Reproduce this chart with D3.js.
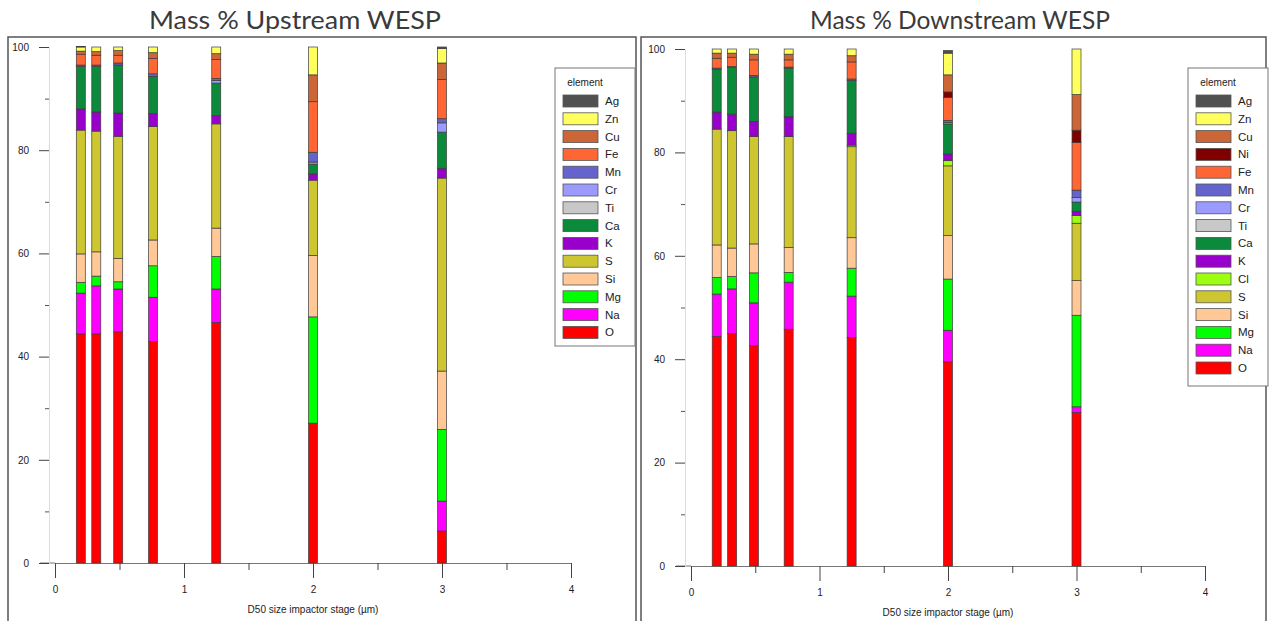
<!DOCTYPE html>
<html lang="en">
<head>
<meta charset="utf-8">
<title>Mass % Upstream / Downstream WESP</title>
<script src="https://cdn.jsdelivr.net/npm/d3@7"></script>
<style>
  body { margin: 0; background: #fff; }
  svg { display: block; }
  .tick text { font-family: "Liberation Sans", Arial, sans-serif; font-size: 10px; fill: #222; }
  .title { font-family: Lato, "Open Sans", sans-serif; font-size: 25px; fill: #3a3a3a; text-anchor: middle; }
  .axlabel { font-family: "Liberation Sans", Arial, sans-serif; font-size: 10px; fill: #222; text-anchor: middle; }
  .legtext { font-family: "Liberation Sans", Arial, sans-serif; font-size: 11.5px; fill: #222; }
</style>
</head>
<body>
<svg id="chart" width="1269" height="621"></svg>
<script>
// D50 cut size of each impactor stage (um)
var stages = [0.2, 0.32, 0.49, 0.76, 1.25, 2.0, 3.0];
var xTicks = [0, 1, 2, 3, 4];
var xMinor = [0.5, 1.5, 2.5, 3.5];
var yTicks = [0, 20, 40, 60, 80, 100];
var yMinor = [10, 30, 50, 70, 90];

// element stacking order, bottom to top
var upElements = ["O", "Na", "Mg", "Si", "S", "K", "Ca", "Ti", "Cr", "Mn", "Fe", "Cu", "Zn", "Ag"];
var downElements = ["O", "Na", "Mg", "Si", "S", "Cl", "K", "Ca", "Ti", "Cr", "Mn", "Fe", "Ni", "Cu", "Zn", "Ag"];

// Upstream WESP, mass % per stage
var up_O  = [44.4, 44.4, 44.8, 42.9, 46.6, 27.1, 6.2];
var up_Na = [7.9, 9.3, 8.3, 8.6, 6.5, 0, 5.8];
var up_Mg = [2.1, 1.9, 1.4, 6.1, 6.3, 20.6, 13.9];
var up_Si = [5.5, 4.7, 4.5, 5.0, 5.5, 11.9, 11.3];
var up_S  = [24.0, 23.4, 23.7, 22.0, 20.2, 14.6, 37.4];
var up_K  = [4.1, 3.7, 4.5, 2.5, 1.6, 1.2, 1.9];
var up_Ca = [8.2, 8.8, 9.3, 7.2, 6.3, 1.9, 7.0];
var up_Ti = [0, 0, 0, 0, 0, 0, 0];
var up_Cr = [0, 0, 0, 0, 0.5, 0.4, 1.8];
var up_Mn = [0.3, 0.3, 0.4, 0.5, 0.4, 1.9, 0.8];
var up_Fe = [2.1, 1.9, 1.5, 3.0, 3.7, 9.8, 7.6];
var up_Cu = [0.6, 0.7, 0.9, 1.1, 1.1, 5.2, 3.2];
var up_Zn = [0.8, 0.9, 0.7, 1.1, 1.3, 5.4, 2.8];
var up_Ag = [0.1, 0, 0, 0, 0, 0, 0.3];

// Downstream WESP, mass % per stage
var down_O  = [44.4, 45.0, 42.6, 45.8, 44.2, 39.5, 29.7];
var down_Na = [8.2, 8.6, 8.3, 9.1, 8.0, 6.1, 1.1];
var down_Mg = [3.2, 2.4, 5.8, 1.9, 5.4, 9.9, 17.7];
var down_Si = [6.3, 5.5, 5.6, 4.8, 5.9, 8.4, 6.7];
var down_S  = [22.4, 22.7, 20.8, 21.5, 17.6, 13.5, 11.1];
var down_Cl = [0, 0, 0, 0, 0.3, 1.0, 1.5];
var down_K  = [3.3, 3.2, 2.9, 3.8, 2.3, 1.3, 0.8];
var down_Ca = [8.3, 9.0, 8.6, 9.4, 10.2, 5.8, 1.8];
var down_Ti = [0, 0, 0, 0, 0, 0, 0];
var down_Cr = [0, 0, 0, 0, 0, 0.3, 0.9];
var down_Mn = [0.2, 0.2, 0.3, 0.2, 0.3, 0.4, 1.4];
var down_Fe = [1.9, 1.8, 3.0, 1.4, 3.3, 4.4, 9.2];
var down_Ni = [0, 0, 0, 0, 0, 1.1, 2.4];
var down_Cu = [1.0, 0.8, 1.1, 1.1, 1.2, 3.3, 6.9];
var down_Zn = [0.8, 0.8, 1.0, 1.0, 1.3, 4.2, 8.8];
var down_Ag = [0, 0, 0, 0, 0, 0.5, 0];

var colors = {
  Ag: "#505050", Zn: "#ffff5e", Cu: "#cd6636", Ni: "#800000", Fe: "#ff6633",
  Mn: "#6464cc", Cr: "#9a9aff", Ti: "#c8c8c8", Ca: "#0a8a3a", K: "#9a00cc",
  Cl: "#9cff12", S: "#cdc630", Si: "#ffc896", Mg: "#00ff00", Na: "#ff00ff", O: "#ff0000"
};

var upSeries = {O: up_O, Na: up_Na, Mg: up_Mg, Si: up_Si, S: up_S, K: up_K, Ca: up_Ca,
  Ti: up_Ti, Cr: up_Cr, Mn: up_Mn, Fe: up_Fe, Cu: up_Cu, Zn: up_Zn, Ag: up_Ag};
var downSeries = {O: down_O, Na: down_Na, Mg: down_Mg, Si: down_Si, S: down_S, Cl: down_Cl,
  K: down_K, Ca: down_Ca, Ti: down_Ti, Cr: down_Cr, Mn: down_Mn, Fe: down_Fe, Ni: down_Ni,
  Cu: down_Cu, Zn: down_Zn, Ag: down_Ag};

function rows(series, keys) {
  return stages.map(function (s, i) {
    var r = {stage: s};
    keys.forEach(function (k) { r[k] = series[k][i]; });
    return r;
  });
}

var svg = d3.select("#chart");

var panels = [
  {title: "Mass % Upstream WESP", keys: upElements, data: rows(upSeries, upElements),
   frame: [8, 37, 628, 600], titleX: 295, titleW: 292, x0: 55, x1: 571, y0: 563, y1: 47, yAxisX: 49,
   legend: {x: 555, y: 68, w: 80, h: 278}},
  {title: "Mass % Downstream WESP", keys: downElements, data: rows(downSeries, downElements),
   frame: [641, 37, 625, 600], titleX: 960, titleW: 300, x0: 691, x1: 1205, y0: 566, y1: 49, yAxisX: 685,
   legend: {x: 1188, y: 68, w: 80, h: 318}}
];

panels.forEach(function (p) {
  var g = svg.append("g");

  // panel frame
  g.append("rect")
    .attr("x", p.frame[0]).attr("y", p.frame[1])
    .attr("width", p.frame[2]).attr("height", p.frame[3])
    .attr("fill", "none").attr("stroke", "#555").attr("stroke-width", 1.5);

  g.append("text").attr("class", "title")
    .attr("x", p.titleX).attr("y", 29)
    .attr("textLength", p.titleW).attr("lengthAdjust", "spacingAndGlyphs")
    .text(p.title);

  var x = d3.scaleLinear().domain([0, 4]).range([p.x0, p.x1]);
  var y = d3.scaleLinear().domain([0, 100]).range([p.y0, p.y1]);

  // x axis
  var xa = g.append("g").attr("transform", "translate(0," + p.y0 + ")")
    .call(d3.axisBottom(x).tickValues(xTicks).tickSize(15).tickSizeOuter(0).tickPadding(8).tickFormat(d3.format("d")));
  xa.select(".domain").attr("stroke", "#777");
  xa.selectAll(".tick line").attr("stroke", "#444");
  g.append("line").attr("x1", p.x0 - 15).attr("x2", p.x0).attr("y1", p.y0).attr("y2", p.y0).attr("stroke", "#777");
  g.append("g").attr("transform", "translate(0," + p.y0 + ")")
    .call(d3.axisBottom(x).tickValues(xMinor).tickSize(7).tickFormat(""))
    .call(function (s) { s.select(".domain").remove(); s.selectAll("line").attr("stroke", "#444"); });

  g.append("text").attr("class", "axlabel")
    .attr("x", x(2)).attr("y", p.y0 + 50).text("D50 size impactor stage (\u00b5m)");

  // y axis
  var ya = g.append("g").attr("transform", "translate(" + p.yAxisX + ",0)")
    .call(d3.axisLeft(y).tickValues(yTicks).tickSize(10).tickSizeOuter(0).tickPadding(10));
  ya.select(".domain").attr("stroke", "#ddd");
  ya.selectAll(".tick line").attr("stroke", "#444");
  g.append("g").attr("transform", "translate(" + p.yAxisX + ",0)")
    .call(d3.axisLeft(y).tickValues(yMinor).tickSize(4).tickFormat(""))
    .call(function (s) { s.select(".domain").remove(); s.selectAll("line").attr("stroke", "#555"); });

  // stacked bars
  var stacked = d3.stack().keys(p.keys)(p.data);
  var bw = 9;
  g.selectAll("g.layer").data(stacked).enter().append("g")
    .attr("class", "layer")
    .attr("fill", function (d) { return colors[d.key]; })
    .selectAll("rect")
    .data(function (d) { return d.filter(function (v) { return v[1] - v[0] > 0; }); })
    .enter().append("rect")
    .attr("x", function (d) { return x(d.data.stage) - bw / 2; })
    .attr("y", function (d) { return y(d[1]); })
    .attr("width", bw)
    .attr("height", function (d) { return y(d[0]) - y(d[1]); })
    .attr("stroke", "#3c3c3c").attr("stroke-width", 0.7);

  // legend
  var L = p.legend;
  g.append("rect").attr("x", L.x).attr("y", L.y).attr("width", L.w).attr("height", L.h)
    .attr("fill", "#fff").attr("stroke", "#777").attr("stroke-width", 1);
  g.append("text").attr("class", "legtext").attr("x", L.x + 30).attr("y", L.y + 18)
    .attr("text-anchor", "middle").style("font-size", "10px").text("element");
  var items = p.keys.slice().reverse();
  var li = g.selectAll("g.li").data(items).enter().append("g")
    .attr("transform", function (d, i) { return "translate(" + (L.x + 8) + "," + (L.y + 27 + i * 17.8) + ")"; });
  li.append("rect").attr("width", 35).attr("height", 12)
    .attr("fill", function (d) { return colors[d]; })
    .attr("stroke", "#555").attr("stroke-width", 0.8);
  li.append("text").attr("class", "legtext").attr("x", 42).attr("y", 10).text(function (d) { return d; });
});
</script>
</body>
</html>
